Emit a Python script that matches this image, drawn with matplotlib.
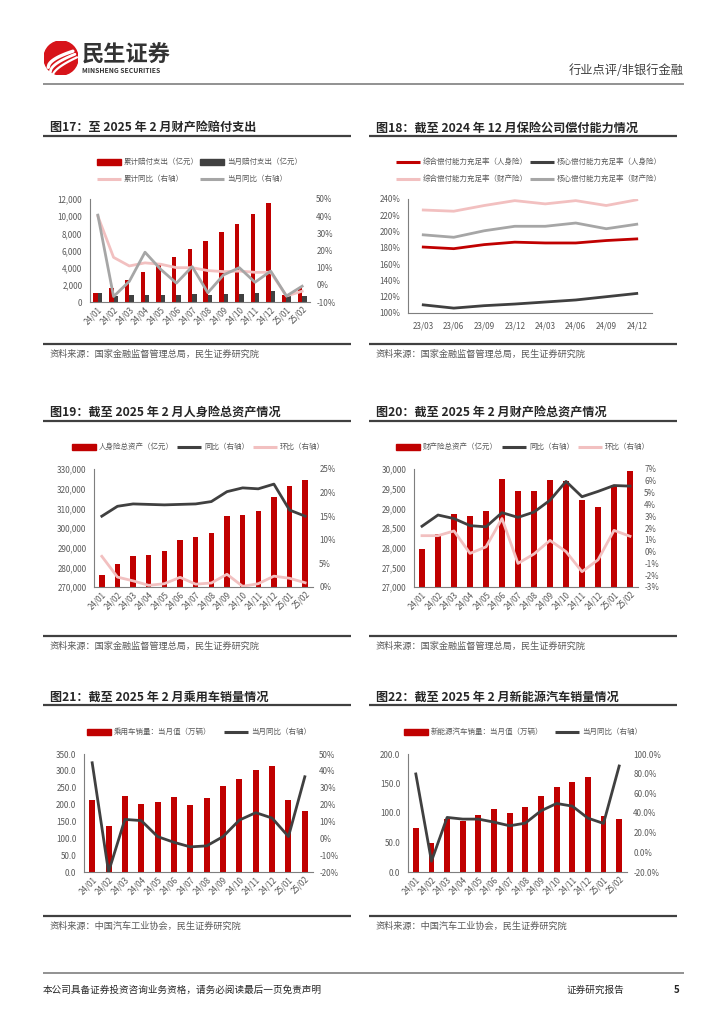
import matplotlib
matplotlib.use("Agg")
import matplotlib.pyplot as plt
from matplotlib.patches import Rectangle, Circle
from matplotlib.lines import Line2D
from matplotlib.ticker import FuncFormatter, MultipleLocator
import numpy as np

plt.rcParams['font.family'] = ['Noto Sans CJK SC', 'DejaVu Sans']

W, H = 724, 1024
RED = '#C00000'
DARK = '#404040'
PINK = '#F2C0C0'
GRAY = '#A6A6A6'
TXT = '#595959'
LINEC = '#404040'

months = ['24/01', '24/02', '24/03', '24/04', '24/05', '24/06', '24/07',
          '24/08', '24/09', '24/10', '24/11', '24/12', '25/01', '25/02']
quarters = ['23/03', '23/06', '23/09', '23/12', '24/03', '24/06', '24/09', '24/12']

# fig17 财产险赔付支出
claims_cum = [1000, 1650, 2550, 3450, 4300, 5250, 6200, 7150, 8100, 9100, 10250, 11500, 850, 1600]
claims_month = [1000, 650, 850, 850, 850, 850, 950, 850, 950, 950, 1050, 1300, 850, 700]
claims_cum_yoy = [40, 16, 11, 12.8, 12, 10, 10, 8.3, 7.7, 8, 7.3, 7.3, -6.5, -3.7]
claims_month_yoy = [40.6, -6.8, 2, 19, 9, 1, 10.6, -4.6, 5.8, 10, 1.5, 8, -6.5, -0.8]

# fig18 偿付能力充足率
life_comp = [181, 179, 184, 187, 186, 186, 189, 191]
life_core = [110, 106, 109, 111, 113.5, 116, 120, 124]
pc_comp = [226.5, 225, 232, 238, 234, 238, 232, 239]
pc_core = [196, 193, 201, 206.5, 206.5, 210.5, 203.5, 209]

# fig19 人身险总资产
life_assets = [276100, 281900, 285600, 286500, 288200, 294150, 295300, 297700,
               305900, 306400, 308600, 315750, 321350, 324400]
life_yoy = [15.0, 17.1, 17.6, 17.5, 17.4, 17.5, 17.6, 18.1, 20.2, 21.0, 20.8, 21.8, 16.3, 15.0]
life_mom = [6.5, 2.1, 1.3, 0.35, 0.7, 2.05, 0.6, 0.85, 2.7, 0.15, 0.7, 2.3, 1.85, 0.9]

# fig20 财产险总资产
pc_assets = [27978, 28360, 28854, 28811, 28939, 29755, 29449, 29432,
             29721, 29704, 29202, 29024, 29594, 29959]
pc_yoy = [2.15, 3.1, 2.8, 2.2, 2.1, 3.3, 2.9, 3.35, 4.35, 5.95, 4.65, 5.1, 5.6, 5.55]
pc_mom = [1.35, 1.35, 1.75, -0.15, 0.4, 2.8, -1.0, -0.2, 0.95, 0.0, -1.7, -0.7, 1.8, 1.3]

# fig21 乘用车销量
car_sales = [213, 135, 225, 201, 209, 223, 200, 219, 254, 277, 302, 315.5, 215, 182]
car_yoy = [44.8, -20, 11.2, 10.5, 1, -2.4, -5.1, -4.5, 1, 10.8, 15.2, 12, 1, 36.5]

# fig22 新能源汽车销量
nev_sales = [73.8, 49, 90, 85.6, 96.3, 106, 99.7, 110.4, 129, 143.7, 152, 161, 95, 90]
nev_yoy = [79.7, -9, 35.5, 33.8, 33.8, 30.7, 27, 29.7, 42.2, 49.7, 47, 34.8, 29.4, 87.8]

fig = plt.figure(figsize=(7.24, 10.24), dpi=100)


def rect(l, t, r, b):
    return [l / W, 1 - b / H, (r - l) / W, (b - t) / H]


def ftext(x, y, s, **kw):
    fig.text(x / W, 1 - y / H, s, **kw)


def hline(x0, x1, y, color, lw):
    fig.add_artist(Line2D([x0 / W, x1 / W], [1 - y / H, 1 - y / H], color=color, lw=lw,
                          solid_capstyle='butt'))


def leg_bar(x, y, color, label):
    fig.add_artist(Rectangle((x / W, 1 - (y + 3) / H), 24 / W, 6 / H, color=color,
                             transform=fig.transFigure))
    ftext(x + 27, y, label, fontsize=5.4, color=TXT, va='center')


def leg_line(x, y, color, label):
    hline(x, x + 24, y, color, 2.2)
    ftext(x + 27, y, label, fontsize=5.4, color=TXT, va='center')


def style_axes(ax, ax2=None, rotate=True):
    ax.spines['top'].set_visible(False)
    ax.spines['right'].set_visible(False)
    ax.spines['left'].set_color('#7f7f7f')
    ax.spines['bottom'].set_color('#7f7f7f')
    ax.tick_params(length=0, labelsize=5.8, labelcolor=TXT, pad=2)
    ax.tick_params(axis='y', pad=5.5)
    if rotate:
        for lab in ax.get_xticklabels():
            lab.set_rotation(45)
            lab.set_ha('right')
            lab.set_rotation_mode('anchor')
    if ax2 is not None:
        for s in ax2.spines.values():
            s.set_visible(False)
        ax2.tick_params(length=0, labelsize=5.8, labelcolor=TXT, pad=4.5)


def title_block(x0, x1, y, s):
    ftext(x0 + 7, y, s, fontsize=8.7, fontweight='bold', color='#262626', va='center')
    hline(x0, x1, y + 8, LINEC, 1.6)


def source_block(x0, x1, y, s):
    hline(x0, x1, y, LINEC, 1.6)
    ftext(x0 + 7, y + 10, s, fontsize=6.6, color=TXT, va='center')


x = np.arange(len(months))
thousands = FuncFormatter(lambda v, p: f'{v:,.0f}')
pct0 = FuncFormatter(lambda v, p: f'{v:.0f}%')

# ---------- header ----------
lg = fig.add_axes(rect(44, 41, 78, 75))
lg.set_xlim(-1, 1)
lg.set_ylim(-1, 1)
lg.set_aspect('equal')
lg.axis('off')
lg.add_patch(Circle((0, 0), 1, color='#D7141A'))
t = np.linspace(0, 1, 40)
for k in range(3):
    xs = -0.75 + 1.45 * t + k * 0.12
    ys = -0.55 + 0.95 * np.sqrt(t) - k * 0.28 + k * 0.1 * t
    lg.plot(xs, ys, color='white', lw=2.4 - 0.4 * k, solid_capstyle='round')
ftext(82, 55, '民生证券', fontsize=16, fontweight='bold', color='#333333', va='center')
ftext(82, 70.5, 'MINSHENG SECURITIES', fontsize=4.9, fontweight='bold', color='#333333', va='center')
ftext(684, 71, '行业点评/非银行金融', fontsize=8.8, color='#404040', va='center', ha='right')
hline(43, 684, 83.5, '#7f7f7f', 1.2)

# ---------- fig17 ----------
title_block(43, 351, 128, '图17：至 2025 年 2 月财产险赔付支出')
ax = fig.add_axes(rect(90, 199, 310, 302))
ax2 = ax.twinx()
ax.bar(x - 0.14, claims_cum, width=0.28, color=RED)
ax.bar(x + 0.14, claims_month, width=0.28, color=DARK)
ax2.plot(x, claims_cum_yoy, color=PINK, lw=2)
ax2.plot(x, claims_month_yoy, color=GRAY, lw=2)
ax.set_ylim(0, 12000)
ax.yaxis.set_major_locator(MultipleLocator(2000))
ax.yaxis.set_major_formatter(thousands)
ax2.set_ylim(-10, 50)
ax2.yaxis.set_major_locator(MultipleLocator(10))
ax2.yaxis.set_major_formatter(pct0)
ax.set_xlim(-0.5, 13.5)
ax.set_xticks(x, months)
style_axes(ax, ax2)
leg_bar(97, 162, RED, '累计赔付支出（亿元）')
leg_bar(200, 162, DARK, '当月赔付支出（亿元）')
leg_line(97, 179, PINK, '累计同比（右轴）')
leg_line(200, 179, GRAY, '当月同比（右轴）')
source_block(43, 351, 344, '资料来源：国家金融监督管理总局，民生证券研究院')

# ---------- fig18 ----------
title_block(369, 677, 128, '图18：截至 2024 年 12 月保险公司偿付能力情况')
ax = fig.add_axes(rect(408, 199, 652, 313))
xq = np.arange(len(quarters))
ax.plot(xq, pc_comp, color=PINK, lw=2)
ax.plot(xq, pc_core, color=GRAY, lw=2)
ax.plot(xq, life_comp, color=RED, lw=2)
ax.plot(xq, life_core, color=DARK, lw=2)
ax.set_ylim(100, 240)
ax.yaxis.set_major_locator(MultipleLocator(20))
ax.yaxis.set_major_formatter(pct0)
ax.set_xlim(-0.5, 7.5)
ax.set_xticks(xq, quarters)
style_axes(ax, rotate=False)
ax.tick_params(axis='x', pad=6)
leg_line(396, 162, RED, '综合偿付能力充足率（人身险）')
leg_line(530, 162, DARK, '核心偿付能力充足率（人身险）')
leg_line(396, 179, PINK, '综合偿付能力充足率（财产险）')
leg_line(530, 179, GRAY, '核心偿付能力充足率（财产险）')
source_block(369, 677, 344, '资料来源：国家金融监督管理总局，民生证券研究院')

# ---------- fig19 ----------
title_block(43, 351, 413, '图19：截至 2025 年 2 月人身险总资产情况')
ax = fig.add_axes(rect(94, 469, 313, 587))
ax2 = ax.twinx()
ax.bar(x, life_assets, width=0.35, color=RED)
ax2.plot(x, life_yoy, color=DARK, lw=2)
ax2.plot(x, life_mom, color=PINK, lw=2)
ax.set_ylim(270000, 330000)
ax.yaxis.set_major_locator(MultipleLocator(10000))
ax.yaxis.set_major_formatter(thousands)
ax2.set_ylim(0, 25)
ax2.yaxis.set_major_locator(MultipleLocator(5))
ax2.yaxis.set_major_formatter(pct0)
ax.set_xlim(-0.5, 13.5)
ax.set_xticks(x, months)
style_axes(ax, ax2)
leg_bar(72, 447, RED, '人身险总资产（亿元）')
leg_line(177, 447, DARK, '同比（右轴）')
leg_line(253, 447, PINK, '环比（右轴）')
source_block(43, 351, 636, '资料来源：国家金融监督管理总局，民生证券研究院')

# ---------- fig20 ----------
title_block(369, 677, 413, '图20：截至 2025 年 2 月财产险总资产情况')
ax = fig.add_axes(rect(414, 469, 638, 587))
ax2 = ax.twinx()
ax.bar(x, pc_assets, width=0.35, color=RED)
ax2.plot(x, pc_yoy, color=DARK, lw=2)
ax2.plot(x, pc_mom, color=PINK, lw=2)
ax.set_ylim(27000, 30000)
ax.yaxis.set_major_locator(MultipleLocator(500))
ax.yaxis.set_major_formatter(thousands)
ax2.set_ylim(-3, 7)
ax2.yaxis.set_major_locator(MultipleLocator(1))
ax2.yaxis.set_major_formatter(pct0)
ax.set_xlim(-0.5, 13.5)
ax.set_xticks(x, months)
style_axes(ax, ax2)
leg_bar(396, 447, RED, '财产险总资产（亿元）')
leg_line(502, 447, DARK, '同比（右轴）')
leg_line(578, 447, PINK, '环比（右轴）')
source_block(369, 677, 636, '资料来源：国家金融监督管理总局，民生证券研究院')

# ---------- fig21 ----------
title_block(43, 351, 697, '图21：截至 2025 年 2 月乘用车销量情况')
ax = fig.add_axes(rect(84, 754, 313, 872))
ax2 = ax.twinx()
ax.bar(x, car_sales, width=0.37, color=RED)
ax2.plot(x, car_yoy, color=DARK, lw=2)
ax.set_ylim(0, 350)
ax.yaxis.set_major_locator(MultipleLocator(50))
ax.yaxis.set_major_formatter(FuncFormatter(lambda v, p: f'{v:.1f}'))
ax2.set_ylim(-20, 50)
ax2.yaxis.set_major_locator(MultipleLocator(10))
ax2.yaxis.set_major_formatter(pct0)
ax.set_xlim(-0.5, 13.5)
ax.set_xticks(x, months)
style_axes(ax, ax2)
leg_bar(87, 732, RED, '乘用车销量：当月值（万辆）')
leg_line(224, 732, DARK, '当月同比（右轴）')
source_block(43, 351, 916, '资料来源：中国汽车工业协会，民生证券研究院')

# ---------- fig22 ----------
title_block(369, 677, 697, '图22：截至 2025 年 2 月新能源汽车销量情况')
ax = fig.add_axes(rect(408, 754, 627, 872))
ax2 = ax.twinx()
ax.bar(x, nev_sales, width=0.37, color=RED)
ax2.plot(x, nev_yoy, color=DARK, lw=2)
ax.set_ylim(0, 200)
ax.yaxis.set_major_locator(MultipleLocator(50))
ax.yaxis.set_major_formatter(FuncFormatter(lambda v, p: f'{v:.1f}'))
ax2.set_ylim(-20, 100)
ax2.yaxis.set_major_locator(MultipleLocator(20))
ax2.yaxis.set_major_formatter(FuncFormatter(lambda v, p: f'{v:.1f}%'))
ax.set_xlim(-0.5, 13.5)
ax.set_xticks(x, months)
style_axes(ax, ax2)
leg_bar(404, 732, RED, '新能源汽车销量：当月值（万辆）')
leg_line(555, 732, DARK, '当月同比（右轴）')
source_block(369, 677, 916, '资料来源：中国汽车工业协会，民生证券研究院')

# ---------- footer ----------
hline(43, 684, 973, '#7f7f7f', 1.2)
ftext(43, 990, '本公司具备证券投资咨询业务资格，请务必阅读最后一页免责声明', fontsize=6.9,
      color='#262626', va='center')
ftext(567, 990, '证券研究报告', fontsize=6.9, color='#262626', va='center')
ftext(677, 990, '5', fontsize=7, fontweight='bold', color='#262626', va='center', ha='center')

fig.savefig('out.png', dpi=100)
